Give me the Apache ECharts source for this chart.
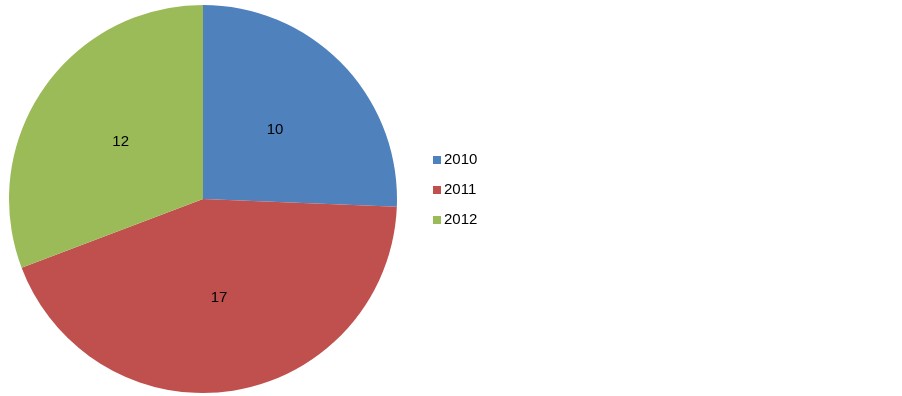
<!DOCTYPE html>
<html><head><meta charset="utf-8">
<script src="https://cdn.jsdelivr.net/npm/echarts@6/dist/echarts.min.js"></script>
<style>html,body{margin:0;padding:0;background:#fff}#c{width:902px;height:396px}</style>
</head><body><div id="c"></div>
<script>
const categories = ['2010', '2011', '2012'];
const values = [10, 17, 12];
const colors = ['#4F81BD', '#C0504D', '#9BBB59'];
const chart = echarts.init(document.getElementById('c'));
chart.setOption({
  animation: false,
  color: colors,
  legend: {
    orient: 'vertical', left: 428, top: 147,
    itemWidth: 8, itemHeight: 8, itemGap: 14, icon: 'rect',
    textStyle: { fontFamily: 'Liberation Sans', fontSize: 15, color: '#000', lineHeight: 16, padding: [0,0,0,-2] },
    data: categories
  },
  series: [{
    type: 'pie', center: [203, 199], radius: 194, startAngle: 90, clockwise: true,
    label: { position: 'inside', formatter: '{c}', fontFamily: 'Liberation Sans', fontSize: 15, color: '#000' },
    labelLine: { show: false },
    emphasis: { disabled: true },
    data: categories.map((c, i) => ({ name: c, value: values[i] }))
  }]
});
</script></body></html>
